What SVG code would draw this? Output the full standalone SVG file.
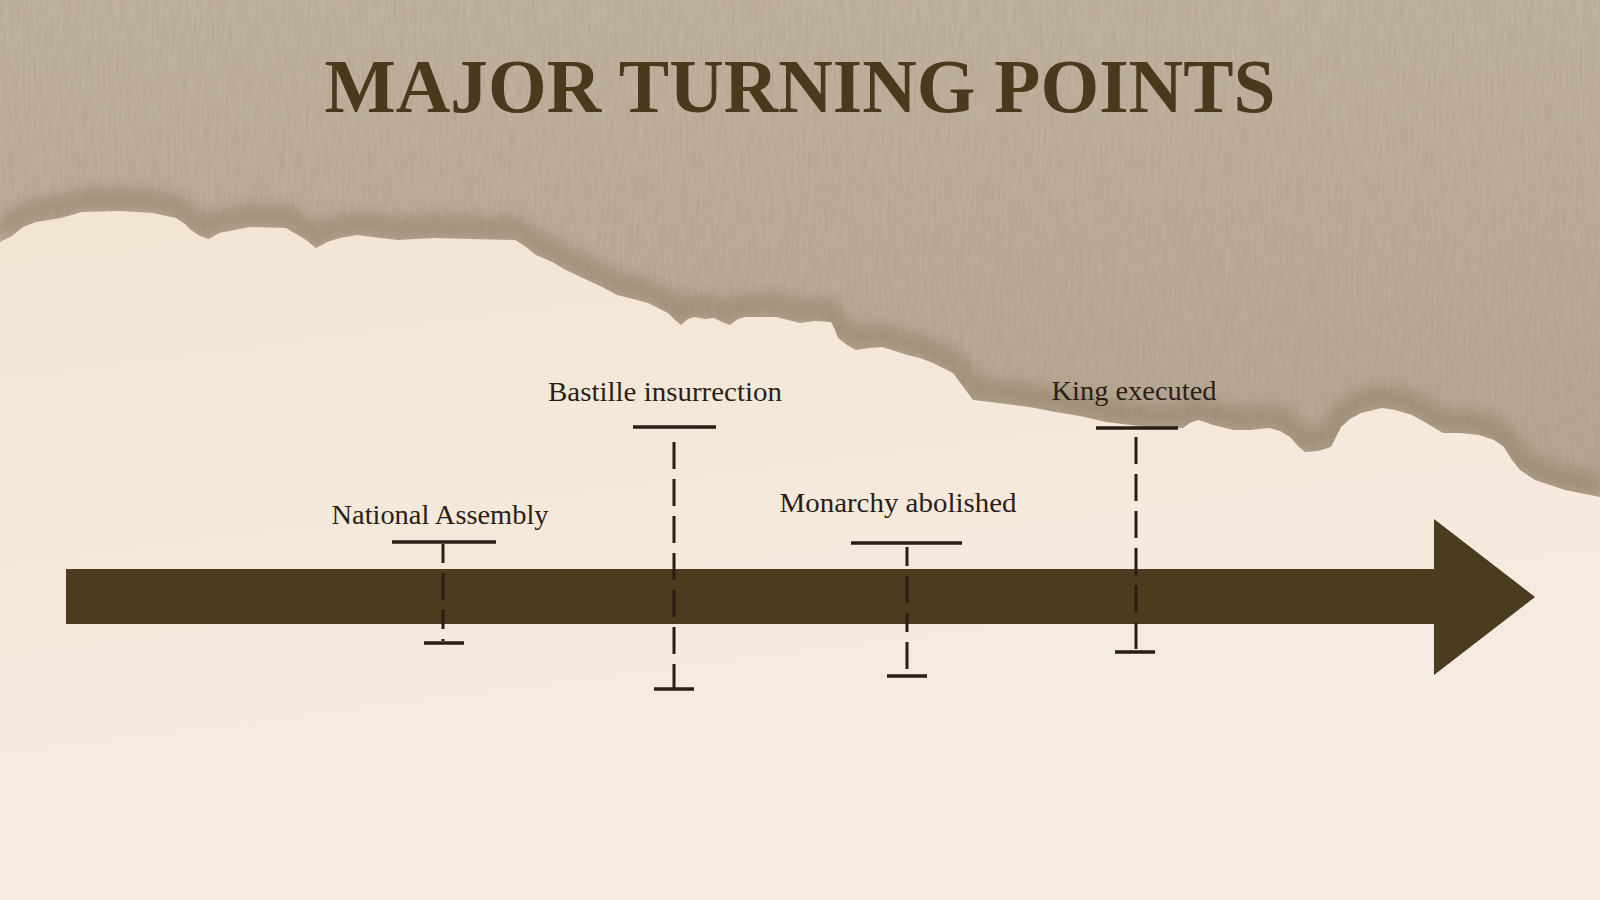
<svg xmlns="http://www.w3.org/2000/svg" width="1600" height="900" viewBox="0 0 1600 900">
  <defs>
    <style>
      .title { font-family: "Liberation Serif", "DejaVu Serif", serif; font-weight: bold; font-size: 76px; fill: #4a3a1d; }
      .label { font-family: "Liberation Serif", "DejaVu Serif", serif; font-size: 27px; fill: #2a1e15; }
      .bar { stroke: #2a1d14; stroke-width: 3.5; fill: none; }
      .stem { stroke: #2a1d14; stroke-width: 3; fill: none; stroke-dasharray: 27 10; }
    </style>
    <linearGradient id="taupe" x1="0" y1="0" x2="0" y2="1">
      <stop offset="0" stop-color="#c0b3a0"/>
      <stop offset="0.6" stop-color="#b4a590"/>
      <stop offset="1" stop-color="#a89882"/>
    </linearGradient>
    <linearGradient id="cream" x1="0" y1="0" x2="0.3" y2="1">
      <stop offset="0" stop-color="#f3e5d4"/>
      <stop offset="1" stop-color="#f6ece2"/>
    </linearGradient>
    <filter id="grain" x="0" y="0" width="100%" height="100%">
      <feTurbulence type="fractalNoise" baseFrequency="0.35 0.04" numOctaves="3" seed="4" result="n"/>
      <feColorMatrix in="n" type="matrix" values="0 0 0 0 0.35  0 0 0 0 0.28  0 0 0 0 0.2  0 0 0 -1.4 1.0"/>
    </filter>
    <filter id="soft" x="-5%" y="-20%" width="110%" height="140%">
      <feGaussianBlur stdDeviation="7"/>
    </filter>
  </defs>

  <g id="background">
    <rect x="0" y="0" width="1600" height="900" fill="url(#taupe)"/>
    <rect x="0" y="0" width="1600" height="520" filter="url(#grain)" opacity="0.35"/>
    <path id="edge-shadow" d="M0,242 L12,236 L23,227 L36,222 L61,218 L82,212 L120,211 L153,213 L176,218 L185,224 L191,230 L200,236 L209,239 L219,233 L250,227 L286,228 L296,234 L306,240 L316,248 L327,242 L340,238 L357,235 L380,238 L398,240 L434,238 L470,239 L515,240 L526,247 L536,255 L552,262 L566,270 L587,280 L602,287 L617,295 L633,299 L648,303 L668,313 L675,320 L681,325 L688,319 L694,317 L705,319 L714,318 L722,322 L730,325 L738,319 L745,317 L776,317 L800,323 L815,321 L831,322 L835,330 L838,338 L847,345 L856,350 L870,348 L882,347 L895,351 L907,355 L920,358 L933,363 L953,373 L962,385 L973,400 L990,402 L1014,405 L1035,408 L1055,412 L1080,416 L1106,422 L1147,427 L1183,428 L1190,423 L1198,420 L1205,422 L1213,425 L1234,430 L1250,430 L1269,428 L1280,431 L1290,437 L1298,446 L1305,452 L1318,451 L1331,447 L1336,437 L1341,427 L1350,419 L1361,413 L1382,408 L1395,410 L1412,415 L1428,424 L1443,433 L1460,433 L1479,435 L1494,440 L1504,447 L1512,460 L1520,470 L1535,480 L1550,485 L1565,490 L1600,497" fill="none" stroke="#8a765d" stroke-width="22" opacity="0.45" filter="url(#soft)" transform="translate(0,-12)"/>
    <path id="cream-paper" d="M0,242 L12,236 L23,227 L36,222 L61,218 L82,212 L120,211 L153,213 L176,218 L185,224 L191,230 L200,236 L209,239 L219,233 L250,227 L286,228 L296,234 L306,240 L316,248 L327,242 L340,238 L357,235 L380,238 L398,240 L434,238 L470,239 L515,240 L526,247 L536,255 L552,262 L566,270 L587,280 L602,287 L617,295 L633,299 L648,303 L668,313 L675,320 L681,325 L688,319 L694,317 L705,319 L714,318 L722,322 L730,325 L738,319 L745,317 L776,317 L800,323 L815,321 L831,322 L835,330 L838,338 L847,345 L856,350 L870,348 L882,347 L895,351 L907,355 L920,358 L933,363 L953,373 L962,385 L973,400 L990,402 L1014,405 L1035,408 L1055,412 L1080,416 L1106,422 L1147,427 L1183,428 L1190,423 L1198,420 L1205,422 L1213,425 L1234,430 L1250,430 L1269,428 L1280,431 L1290,437 L1298,446 L1305,452 L1318,451 L1331,447 L1336,437 L1341,427 L1350,419 L1361,413 L1382,408 L1395,410 L1412,415 L1428,424 L1443,433 L1460,433 L1479,435 L1494,440 L1504,447 L1512,460 L1520,470 L1535,480 L1550,485 L1565,490 L1600,497 L1600,900 L0,900 Z" fill="url(#cream)"/>
  </g>

  <g id="title">
    <text class="title" x="800" y="112" text-anchor="middle" textLength="951" lengthAdjust="spacingAndGlyphs">MAJOR TURNING POINTS</text>
  </g>

  <g id="connectors">
    <path id="timeline-arrow" d="M66,569 H1434 V519 L1535,597 L1434,675 V624 H66 Z" fill="#4a3c1f"/>
  </g>

  <g id="node-national-assembly">
    <text class="label" x="440" y="524" text-anchor="middle" textLength="217" lengthAdjust="spacingAndGlyphs">National Assembly</text>
    <line class="bar" x1="392" y1="542" x2="496" y2="542"/>
    <line class="stem" x1="443" y1="544" x2="443" y2="641" style="stroke-dasharray:19 10 27 10"/>
    <line class="bar" x1="424" y1="643" x2="464" y2="643"/>
  </g>

  <g id="node-bastille">
    <text class="label" x="665" y="401" text-anchor="middle" textLength="234" lengthAdjust="spacingAndGlyphs">Bastille insurrection</text>
    <line class="bar" x1="633" y1="427" x2="716" y2="427"/>
    <line class="stem" x1="674" y1="442" x2="674" y2="689"/>
    <line class="bar" x1="654" y1="689" x2="694" y2="689"/>
  </g>

  <g id="node-monarchy">
    <text class="label" x="898" y="512" text-anchor="middle" textLength="237" lengthAdjust="spacingAndGlyphs">Monarchy abolished</text>
    <line class="bar" x1="851" y1="543" x2="962" y2="543"/>
    <line class="stem" x1="907" y1="547" x2="907" y2="676" style="stroke-dasharray:19 10 27 10"/>
    <line class="bar" x1="887" y1="676" x2="927" y2="676"/>
  </g>

  <g id="node-king">
    <text class="label" x="1134" y="400" text-anchor="middle" textLength="165" lengthAdjust="spacingAndGlyphs">King executed</text>
    <line class="bar" x1="1096" y1="428" x2="1178" y2="428"/>
    <line class="stem" x1="1136" y1="437" x2="1136" y2="652"/>
    <line class="bar" x1="1115" y1="652" x2="1155" y2="652"/>
  </g>
</svg>
